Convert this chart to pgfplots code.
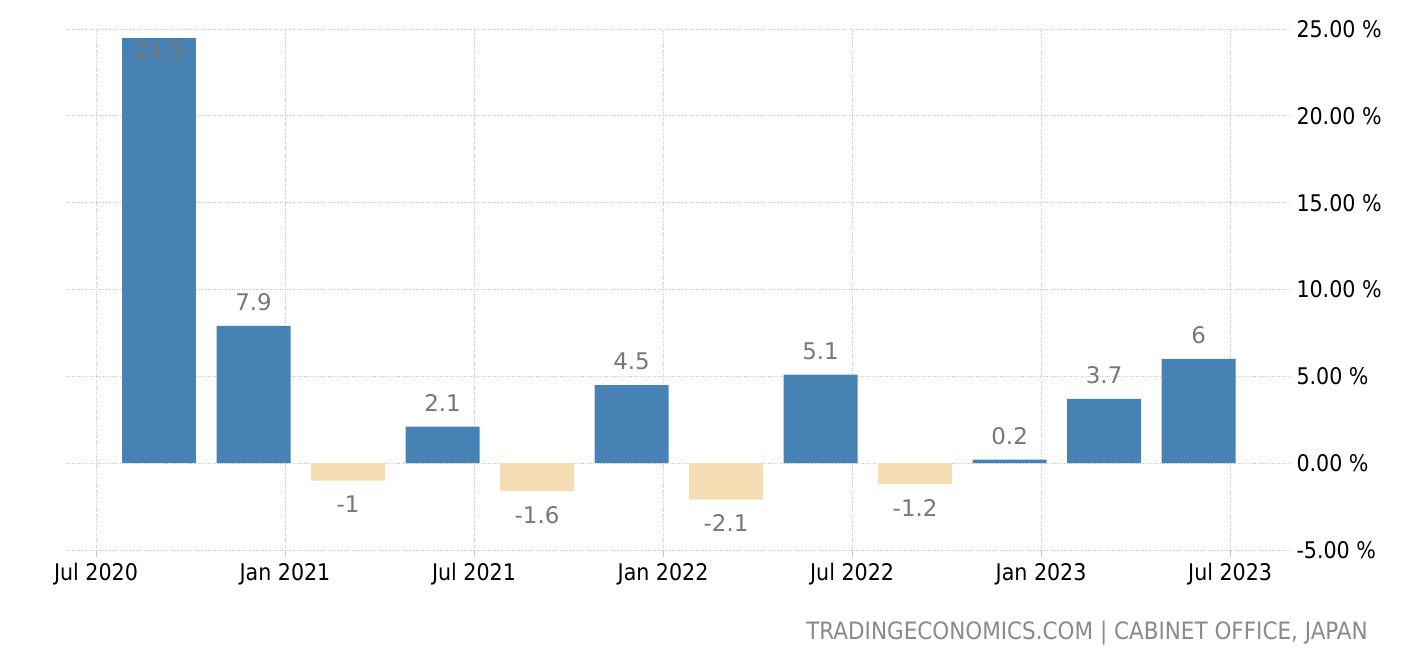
\documentclass[border=0pt]{standalone}
\usepackage{pgfplots}
\pgfplotsset{compat=1.18}
\usepackage{fontspec}
\setmainfont{DejaVu Sans}
\newfontfamily\condfont{DejaVu Sans Condensed}
\definecolor{barblue}{HTML}{4682B4}
\definecolor{barneg}{HTML}{F5DEB3}
\definecolor{lblgray}{HTML}{777777}
\definecolor{srcgray}{HTML}{8A8A8A}
\definecolor{gridgray}{HTML}{C8C8C8}
\begin{document}
\begin{tikzpicture}
\useasboundingbox (0,0) rectangle (1426bp,664bp);
\begin{axis}[
  at={(67bp,114bp)}, anchor=south west,
  scale only axis, width=1223bp, height=521bp,
  xmin=-0.92, xmax=37.9, ymin=-5, ymax=25,
  axis line style={draw=none},
  xtick={0,6,12,18,24,30,36},
  xticklabels={Jul 2020,Jan 2021,Jul 2021,Jan 2022,Jul 2022,Jan 2023,Jul 2023},
  ytick={-5,0,5,10,15,20,25},
  ytick pos=right, xtick pos=bottom,
  tick align=outside,
  major tick length=7bp,
  xtick style={draw=gridgray, line width=0.8bp},
  ytick style={draw=none},
  xmajorgrids, ymajorgrids,
  grid style={dotted, draw=gridgray, line width=0.9bp},
  /pgf/number format/assume math mode=true,
  ticklabel style={font=\condfont\fontsize{23}{23}\selectfont, text=black},
  yticklabel style={anchor=west, xshift=-4bp},
  yticklabel={\pgfmathprintnumber[fixed,fixed zerofill,precision=2]{\tick}~\%},
  xticklabel style={yshift=-3bp},
  clip=false,
]
% first bar (label inside)
\addplot[ybar, bar width=74bp, fill=barblue, draw=none,
  nodes near coords,
  every node near coord/.append style={anchor=north, yshift=-1.7bp, text=lblgray,
    font=\fontsize{23}{23}\selectfont}]
  coordinates {(2,24.5)};
% positive bars
\addplot[ybar, bar width=74bp, fill=barblue, draw=none,
  nodes near coords,
  every node near coord/.append style={anchor=south, yshift=11.7bp, text=lblgray,
    font=\fontsize{23}{23}\selectfont}]
  coordinates {(5,7.9) (11,2.1) (17,4.5) (23,5.1) (29,0.2) (32,3.7) (35,6)};
% negative bars
\addplot[ybar, bar width=74bp, fill=barneg, draw=none,
  nodes near coords,
  every node near coord/.append style={anchor=north, yshift=-11.7bp, text=lblgray,
    font=\fontsize{23}{23}\selectfont}]
  coordinates {(8,-1) (14,-1.6) (20,-2.1) (26,-1.2)};
\end{axis}
\node[anchor=east, inner sep=0pt, text=srcgray, font=\condfont\fontsize{24}{24}\selectfont]
  at (1368bp,31bp) {TRADINGECONOMICS.COM | CABINET OFFICE, JAPAN};
\end{tikzpicture}
\end{document}
